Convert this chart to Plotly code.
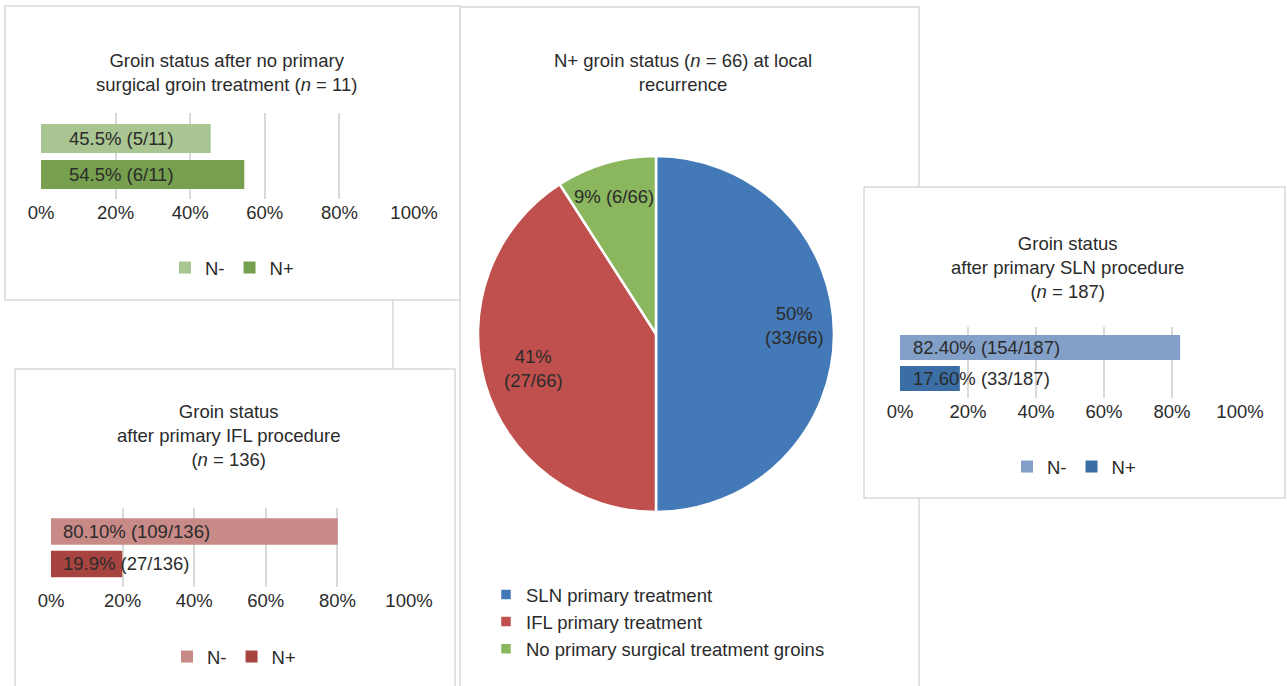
import plotly.graph_objects as go

W, H = 1287, 686

# ---------------- data ----------------
status_cats = ["N-", "N+"]

none_pct = [45.5, 54.5]
none_labels = ["45.5% (5/11)", "54.5% (6/11)"]

ifl_pct = [80.1, 19.9]
ifl_labels = ["80.10% (109/136)", "19.9% (27/136)"]

sln_pct = [82.4, 17.6]
sln_labels = ["82.40% (154/187)", "17.60% (33/187)"]

pie_labels = ["SLN primary treatment", "IFL primary treatment",
              "No primary surgical treatment groins"]
pie_values = [33, 27, 6]
pie_text = ["50%<br>(33/66)", "41%<br>(27/66)", "9% (6/66)"]

x_ticks = [0, 20, 40, 60, 80, 100]
x_tick_text = ["0%", "20%", "40%", "60%", "80%", "100%"]

# ---------------- styles ----------------
FONT = "Liberation Sans, Arial, Helvetica, sans-serif"
FS = 18.5
TXT = "#2b2b2b"
GRID = "#d9d9d9"
BORDER = "#d9d9d9"

none_colors = ["#a9c591", "#77a04e"]
ifl_colors = ["#c88a87", "#a8443f"]
sln_colors = ["#83a0c8", "#3a6ea5"]
pie_colors = ["#4479b7", "#bf504d", "#8ab65d"]


def X(px):
    return px / W


def Y(py):
    return 1 - py / H


fig = go.Figure()

panels = [
    # (values, labels, colors, xaxis, yaxis, legend, bar width)
    (none_pct, none_labels, none_colors, "x", "y", "legend", 0.8),
    (ifl_pct, ifl_labels, ifl_colors, "x2", "y2", "legend2", 0.815),
    (sln_pct, sln_labels, sln_colors, "x3", "y3", "legend3", 0.806),
]

for vals, labs, cols, xa, ya, lg, bw in panels:
    for i, cat in enumerate(status_cats):
        fig.add_trace(go.Bar(
            x=[vals[i]], y=[cat], orientation="h",
            marker=dict(color=cols[i], line=dict(width=0)),
            width=bw, name=cat, xaxis=xa, yaxis=ya, legend=lg,
            showlegend=True, hoverinfo="x+y",
        ))

fig.add_trace(go.Pie(
    labels=pie_labels, values=pie_values, sort=False,
    direction="clockwise", rotation=0,
    marker=dict(colors=pie_colors, line=dict(color="white", width=2.5)),
    textinfo="none", hoverinfo="label+value+percent",
    domain=dict(x=[X(478), X(834)], y=[Y(512), Y(156)]),
    legend="legend4",
))

axis_common = dict(
    range=[0, 100], tickmode="array", tickvals=x_ticks, ticktext=x_tick_text,
    showgrid=True, gridcolor=GRID, gridwidth=1.5, zeroline=False,
    showline=False, ticks="", tickfont=dict(size=FS, color=TXT, family=FONT),
    fixedrange=True, automargin=False,
)
yaxis_common = dict(
    type="category", showgrid=False, zeroline=False, showline=False,
    showticklabels=False, ticks="", fixedrange=True, automargin=False,
)

legend_common = dict(font=dict(size=FS, color=TXT), bgcolor="rgba(0,0,0,0)")

fig.update_layout(
    width=W, height=H,
    margin=dict(l=0, r=0, t=0, b=0, autoexpand=False),
    paper_bgcolor="white", plot_bgcolor="rgba(0,0,0,0)",
    font=dict(family=FONT, size=FS, color=TXT),
    barmode="overlay",
    xaxis=dict(domain=[X(41), X(414)], anchor="y", **axis_common),
    yaxis=dict(domain=[Y(199), Y(113)], anchor="x", range=[1.68, -0.708], **yaxis_common),
    xaxis2=dict(domain=[X(51), X(409)], anchor="y2", **axis_common),
    yaxis2=dict(domain=[Y(587), Y(508)], anchor="x2", range=[1.708, -0.723], **yaxis_common),
    xaxis3=dict(domain=[X(900), X(1240)], anchor="y3", **axis_common),
    yaxis3=dict(domain=[Y(398), Y(327)], anchor="x3", range=[1.629, -0.661], **yaxis_common),
    legend=dict(orientation="h", x=X(232), xanchor="center", y=Y(268), yanchor="middle",
                **legend_common),
    legend2=dict(orientation="h", x=X(234), xanchor="center", y=Y(657), yanchor="middle",
                 **legend_common),
    legend3=dict(orientation="h", x=X(1074), xanchor="center", y=Y(467), yanchor="middle",
                 **legend_common),
    legend4=dict(orientation="v", x=X(486), xanchor="left", y=Y(622), yanchor="middle",
                 **legend_common),
)

# panel frames (drawn beneath traces)
shapes = []


def frame(x0, y0, x1, y1):
    shapes.append(dict(type="rect", xref="paper", yref="paper", layer="below",
                       x0=X(x0), x1=X(x1), y0=Y(y1), y1=Y(y0),
                       fillcolor="white", line=dict(color=BORDER, width=1.5)))


frame(460, 7, 919, 720)     # pie panel
frame(5, 6, 460, 300)       # top-left panel
frame(15, 369, 455, 720)    # bottom-left panel
frame(864, 187, 1285, 498)  # right panel
shapes.append(dict(type="line", xref="paper", yref="paper", layer="below",
                   x0=X(393), x1=X(393), y0=Y(300), y1=Y(369),
                   line=dict(color=BORDER, width=1.5)))
fig.update_layout(shapes=shapes)

ann = []


def title(text, cx, cy):
    ann.append(dict(text=text, x=X(cx), y=Y(cy), xref="paper", yref="paper",
                    xanchor="center", yanchor="middle", showarrow=False,
                    align="center", font=dict(size=FS, color=TXT)))


title("Groin status after no primary<br>surgical groin treatment (<i>n</i> = 11)", 226, 72.5)
title("Groin status<br>after primary IFL procedure<br>(<i>n</i> = 136)", 228, 435.5)
title("Groin status<br>after primary SLN procedure<br>(<i>n</i> = 187)", 1067, 267.5)
title("N+ groin status (<i>n</i> = 66) at local<br>recurrence", 683, 72)

# bar value labels
label_start = {"x": 7.0, "x2": 2.8, "x3": 3.3}
for vals, labs, cols, xa, ya, lg, bw in panels:
    for i, cat in enumerate(status_cats):
        ann.append(dict(text=labs[i], x=label_start[xa], y=cat, xref=xa, yref=ya,
                        xanchor="left", yanchor="middle", showarrow=False,
                        font=dict(size=FS, color=TXT)))

# pie slice labels
pie_label_pos = [(795, 325), (533, 368), (614, 196)]
for t, (px, py) in zip(pie_text, pie_label_pos):
    ann.append(dict(text=t, x=X(px), y=Y(py), xref="paper", yref="paper",
                    xanchor="center", yanchor="middle", showarrow=False,
                    align="center", font=dict(size=FS, color=TXT)))

fig.update_layout(annotations=ann)

fig.write_html("out.html", config={"displayModeBar": False},
               post_script="document.body.style.margin='0';document.body.style.overflow='hidden';")
